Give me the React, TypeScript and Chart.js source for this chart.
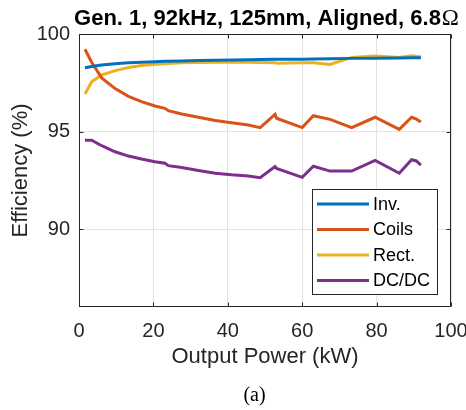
import React, { useEffect, useRef } from 'react';
import { Chart, registerables } from 'chart.js';

Chart.register(...registerables);

// ---- data ----
const outputPowerKW = [1.6, 3.4, 6.1, 9.7, 13.3, 16.8, 20.4, 23.1, 24.0, 27.6, 32.1, 36.6, 41.0, 45.5, 48.7, 52.7, 53.1, 60.0, 63.0, 67.5, 73.3, 79.6, 86.1, 89.4, 90.7, 91.9];
const invEff = [98.27, 98.33, 98.41, 98.48, 98.52, 98.55, 98.58, 98.6, 98.6, 98.62, 98.64, 98.66, 98.67, 98.68, 98.69, 98.7, 98.7, 98.71, 98.72, 98.73, 98.75, 98.76, 98.77, 98.78, 98.78, 98.78];
const coilsEff = [99.22, 98.55, 97.75, 97.2, 96.8, 96.53, 96.31, 96.19, 96.07, 95.9, 95.73, 95.56, 95.45, 95.33, 95.2, 95.88, 95.68, 95.2, 95.81, 95.62, 95.2, 95.73, 95.11, 95.73, 95.63, 95.49];
const rectEff = [96.92, 97.55, 97.9, 98.12, 98.28, 98.38, 98.45, 98.48, 98.49, 98.52, 98.54, 98.55, 98.55, 98.55, 98.54, 98.53, 98.5, 98.52, 98.53, 98.44, 98.8, 98.87, 98.8, 98.89, 98.86, 98.84];
const dcdcEff = [94.55, 94.55, 94.27, 93.96, 93.74, 93.59, 93.45, 93.37, 93.25, 93.15, 93.0, 92.86, 92.78, 92.72, 92.63, 93.2, 93.11, 92.65, 93.22, 92.97, 92.97, 93.52, 92.86, 93.55, 93.49, 93.28];

const seriesLabels = ['Inv.', 'Coils', 'Rect.', 'DC/DC'];
const seriesColors = ['#0072BD', '#D95319', '#EDB120', '#7E2F8E'];
const xTicks = [0, 20, 40, 60, 80, 100];
const yTicks = [90, 95, 100];

const titleMain = 'Gen. 1, 92kHz, 125mm, Aligned, 6.8';
const titleUnit = 'Ω';
const xLabel = 'Output Power (kW)';
const yLabel = 'Efficiency (%)';
const captionText = '(a)';

const FONT = '"Liberation Sans", Arial, Helvetica, sans-serif';
const SERIF = '"Liberation Serif", "Times New Roman", serif';
const AXIS_COLOR = '#262626';

const overlayPlugin = {
  id: 'overlay',
  afterDatasetsDraw(chart: any) {
    const { ctx, chartArea: a, scales } = chart;
    ctx.save();
    const L = Math.round(a.left) + 0.5;
    const R = Math.round(a.right) - 0.5;
    const T = Math.round(a.top) + 0.5;
    const B = Math.round(a.bottom) - 0.5;
    const tl = 4;
    ctx.strokeStyle = AXIS_COLOR;
    ctx.lineWidth = 1;
    ctx.beginPath();
    xTicks.forEach((v) => {
      const px = Math.round(scales.x.getPixelForValue(v)) + 0.5;
      ctx.moveTo(px, B);
      ctx.lineTo(px, B - tl);
      ctx.moveTo(px, T);
      ctx.lineTo(px, T + tl);
    });
    yTicks.forEach((v) => {
      const py = Math.round(scales.y.getPixelForValue(v)) + 0.5;
      ctx.moveTo(L, py);
      ctx.lineTo(L + tl, py);
      ctx.moveTo(R, py);
      ctx.lineTo(R - tl, py);
    });
    ctx.stroke();
    ctx.strokeRect(L, T, R - L, B - T);

    // legend (inside axes, bottom-right)
    const lx = 312.5, ly = 189.5, lw = 125, lh = 105;
    ctx.fillStyle = '#ffffff';
    ctx.fillRect(lx, ly, lw, lh);
    ctx.strokeStyle = AXIS_COLOR;
    ctx.lineWidth = 1;
    ctx.strokeRect(lx, ly, lw, lh);
    ctx.font = `18px ${FONT}`;
    ctx.textAlign = 'left';
    ctx.textBaseline = 'middle';
    chart.data.datasets.forEach((ds: any, i: number) => {
      const ry = 204 + i * 25.5;
      ctx.strokeStyle = ds.borderColor;
      ctx.lineWidth = 3;
      ctx.beginPath();
      ctx.moveTo(317, ry);
      ctx.lineTo(369, ry);
      ctx.stroke();
      ctx.fillStyle = '#000000';
      ctx.fillText(ds.label, 373, ry + 1);
    });

    // title: bold sans text + serif omega
    ctx.fillStyle = '#000000';
    ctx.textAlign = 'left';
    ctx.textBaseline = 'alphabetic';
    const mainFont = `bold 22px ${FONT}`;
    const unitFont = `23px ${SERIF}`;
    ctx.font = mainFont;
    const w1 = ctx.measureText(titleMain).width;
    ctx.font = unitFont;
    const w2 = ctx.measureText(titleUnit).width;
    const cx = (a.left + a.right) / 2 + 1;
    const startX = cx - (w1 + w2) / 2;
    const baseY = 25;
    ctx.font = mainFont;
    ctx.fillText(titleMain, startX, baseY);
    ctx.font = unitFont;
    ctx.fillText(titleUnit, startX + w1 + 1, baseY);

    // caption
    ctx.textAlign = 'center';
    ctx.textBaseline = 'middle';
    ctx.font = `20px ${SERIF}`;
    ctx.fillText(captionText, 254.5, 396);
    ctx.restore();
  },
};

export default function App() {
  const canvasRef = useRef<HTMLCanvasElement | null>(null);

  useEffect(() => {
    if (!canvasRef.current) return;
    const datasets = [invEff, coilsEff, rectEff, dcdcEff].map((vals, i) => ({
      label: seriesLabels[i],
      data: outputPowerKW.map((x, j) => ({ x, y: vals[j] })),
      borderColor: seriesColors[i],
      backgroundColor: seriesColors[i],
      borderWidth: 3,
      pointRadius: 0,
      tension: 0,
      fill: false,
    }));
    const chart = new Chart(canvasRef.current, {
      type: 'line',
      data: { datasets },
      plugins: [overlayPlugin],
      options: {
        responsive: false,
        maintainAspectRatio: false,
        animation: false,
        devicePixelRatio: 1,
        layout: { padding: { top: 34, right: 15, left: 0, bottom: 0 } },
        plugins: {
          legend: { display: false },
          title: { display: false },
          tooltip: { enabled: false },
        },
        scales: {
          x: {
            type: 'linear',
            min: 0,
            max: 100,
            afterBuildTicks: (s: any) => {
              s.ticks = xTicks.map((v) => ({ value: v }));
            },
            afterFit: (s: any) => {
              s.height = 103;
              s.paddingLeft = 0;
              s.paddingRight = 0;
            },
            grid: { color: '#e3e3e3', drawTicks: false, lineWidth: 1 },
            border: { display: false },
            ticks: {
              padding: 12,
              color: AXIS_COLOR,
              font: { family: FONT, size: 20 },
              maxRotation: 0,
              autoSkip: false,
            },
            title: {
              display: true,
              text: xLabel,
              color: AXIS_COLOR,
              font: { family: FONT, size: 22 },
              padding: { top: 0, bottom: 40 },
            },
          },
          y: {
            type: 'linear',
            min: 86,
            max: 100,
            afterBuildTicks: (s: any) => {
              s.ticks = yTicks.map((v) => ({ value: v }));
            },
            afterFit: (s: any) => {
              s.width = 79;
              s.paddingTop = 0;
              s.paddingBottom = 0;
            },
            grid: { color: '#e3e3e3', drawTicks: false, lineWidth: 1 },
            border: { display: false },
            ticks: {
              padding: 9,
              color: AXIS_COLOR,
              font: { family: FONT, size: 20 },
              autoSkip: false,
            },
            title: {
              display: true,
              text: yLabel,
              color: AXIS_COLOR,
              font: { family: FONT, size: 22 },
              padding: { top: 8, bottom: 0 },
            },
          },
        },
      },
    });
    return () => chart.destroy();
  }, []);

  return (
    <div style={{ position: 'fixed', left: 0, top: 0, width: 466, height: 410, background: '#ffffff' }}>
      <canvas ref={canvasRef} width={466} height={410} style={{ display: 'block' }} />
    </div>
  );
}
